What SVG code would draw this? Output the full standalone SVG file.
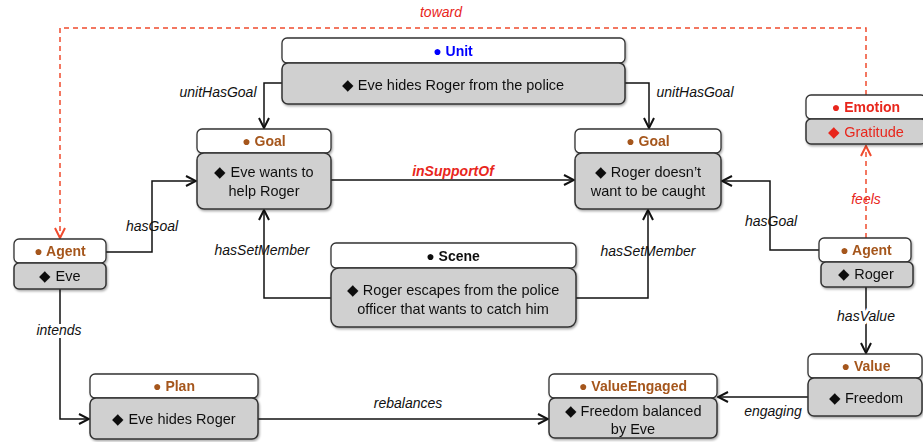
<svg xmlns="http://www.w3.org/2000/svg" width="923" height="442" viewBox="0 0 923 442">
<defs>
<filter id="sh" x="-10%" y="-10%" width="130%" height="140%">
<feDropShadow dx="1" dy="1.5" stdDeviation="1" flood-color="#000" flood-opacity="0.35"/>
</filter>
<marker id="ah" viewBox="0 0 12 12" refX="11" refY="6" markerWidth="12" markerHeight="12" markerUnits="userSpaceOnUse" orient="auto">
<path d="M1,1 L11,6 L1,11" fill="none" stroke="#111" stroke-width="2"/>
</marker>
<marker id="ahr" viewBox="0 0 12 12" refX="11" refY="6" markerWidth="12" markerHeight="12" markerUnits="userSpaceOnUse" orient="auto">
<path d="M1,1 L11,6 L1,11" fill="none" stroke="#F04B2E" stroke-width="2"/>
</marker>
</defs>
<style>
.hd{fill:#fff;stroke:#333;stroke-width:1.3}
.bd{fill:#d0d0d0;stroke:#333;stroke-width:1.5}
.ht{font-family:"Liberation Sans",Arial,sans-serif;font-size:14px;font-weight:bold;text-anchor:middle}
.br{fill:#A5561C}
.bt{font-family:"Liberation Sans",Arial,sans-serif;font-size:14.5px;fill:#111;text-anchor:middle}
.lb{font-family:"Liberation Sans",Arial,sans-serif;font-size:14px;font-style:italic;fill:#111;text-anchor:middle}
.ln{fill:none;stroke:#111;stroke-width:1.5}
.rd{fill:none;stroke:#F04B2E;stroke-width:1.5;stroke-dasharray:5,4}
</style>
<g id="connectors">
<path class="ln" d="M282,83 H264 V128" marker-end="url(#ah)"/>
<text class="lb" x="218" y="97">unitHasGoal</text>
<path class="ln" d="M625,83 H649 V128" marker-end="url(#ah)"/>
<text class="lb" x="695" y="97">unitHasGoal</text>
<path class="ln" d="M331,180 H574" marker-end="url(#ah)"/>
<text class="lb" x="453" y="176" style="fill:#E8261C;font-weight:bold">inSupportOf</text>
<path class="ln" d="M106,252 H152 V181 H196" marker-end="url(#ah)"/>
<text class="lb" x="152" y="231">hasGoal</text>
<path class="ln" d="M331,298 H264 V210" marker-end="url(#ah)"/>
<text class="lb" x="262" y="255">hasSetMember</text>
<path class="ln" d="M576,298 H648 V210" marker-end="url(#ah)"/>
<text class="lb" x="648" y="256">hasSetMember</text>
<path class="ln" d="M819,250 H770 V181 H722" marker-end="url(#ah)"/>
<text class="lb" x="771" y="226">hasGoal</text>
<path class="rd" d="M866,95 V28 H60 V238" marker-end="url(#ahr)"/>
<text class="lb" x="441" y="17" style="fill:#E8261C">toward</text>
<path class="rd" d="M866,238 V146" marker-end="url(#ahr)"/>
<text class="lb" x="866" y="204" style="fill:#E8261C">feels</text>
<path class="ln" d="M60,289 V419 H89" marker-end="url(#ah)"/>
<text class="lb" x="59" y="335" style="stroke:#fff;stroke-width:6;paint-order:stroke">intends</text>
<path class="ln" d="M258,419 H548" marker-end="url(#ah)"/>
<text class="lb" x="408" y="408">rebalances</text>
<path class="ln" d="M866,287 V353" marker-end="url(#ah)"/>
<text class="lb" x="866" y="321" style="stroke:#fff;stroke-width:6;paint-order:stroke">hasValue</text>
<path class="ln" d="M808,397 H718" marker-end="url(#ah)"/>
<text class="lb" x="773" y="416">engaging</text>
</g>
<g id="unit" filter="url(#sh)">
<rect class="hd" x="282" y="38" width="343" height="25" rx="5"/>
<rect class="bd" x="282" y="63" width="343" height="41" rx="6"/>
<text class="ht" x="453" y="56" fill="#0000FF">● Unit</text>
<text class="bt" x="453" y="90">◆  Eve hides Roger from the police</text>
</g>
<g id="goal-eve" filter="url(#sh)">
<rect class="hd" x="197" y="129" width="134" height="24" rx="5"/>
<rect class="bd" x="197" y="153" width="134" height="56" rx="7"/>
<text class="ht br" x="264" y="146">● Goal</text>
<text class="bt" x="264" y="177">◆ Eve wants to</text>
<text class="bt" x="264" y="196">help Roger</text>
</g>
<g id="goal-roger" filter="url(#sh)">
<rect class="hd" x="575" y="129" width="146" height="24" rx="5"/>
<rect class="bd" x="575" y="153" width="146" height="56" rx="7"/>
<text class="ht br" x="648" y="146">● Goal</text>
<text class="bt" x="648" y="177">◆ Roger doesn’t</text>
<text class="bt" x="648" y="196">want to be caught</text>
</g>
<g id="emotion" filter="url(#sh)">
<rect class="hd" x="806" y="95" width="120" height="24" rx="5"/>
<rect class="bd" x="806" y="119" width="120" height="25" rx="5"/>
<text class="ht" x="866" y="112" fill="#E8261C">● Emotion</text>
<text class="bt" x="866" y="137" style="fill:#E8261C">◆ Gratitude</text>
</g>
<g id="agent-eve" filter="url(#sh)">
<rect class="hd" x="14" y="239" width="92" height="24" rx="5"/>
<rect class="bd" x="14" y="263" width="92" height="26" rx="5"/>
<text class="ht br" x="60" y="256">● Agent</text>
<text class="bt" x="60" y="281">◆ Eve</text>
</g>
<g id="scene" filter="url(#sh)">
<rect class="hd" x="331" y="243" width="245" height="25" rx="5"/>
<rect class="bd" x="331" y="268" width="245" height="59" rx="8"/>
<text class="ht" x="453" y="261" fill="#111">● Scene</text>
<text class="bt" x="453" y="295">◆ Roger escapes from the police</text>
<text class="bt" x="453" y="314">officer that wants to catch him</text>
</g>
<g id="agent-roger" filter="url(#sh)">
<rect class="hd" x="819" y="238" width="92" height="24" rx="5"/>
<rect class="bd" x="821" y="262" width="92" height="25" rx="5"/>
<text class="ht br" x="866" y="255">● Agent</text>
<text class="bt" x="866" y="279">◆ Roger</text>
</g>
<g id="value" filter="url(#sh)">
<rect class="hd" x="808" y="354" width="114" height="24" rx="5"/>
<rect class="bd" x="808" y="378" width="114" height="38" rx="6"/>
<text class="ht br" x="866" y="371">● Value</text>
<text class="bt" x="866" y="403">◆ Freedom</text>
</g>
<g id="plan" filter="url(#sh)">
<rect class="hd" x="90" y="374" width="168" height="24" rx="5"/>
<rect class="bd" x="90" y="398" width="168" height="41" rx="6"/>
<text class="ht br" x="174" y="391">● Plan</text>
<text class="bt" x="174" y="424">◆ Eve hides Roger</text>
</g>
<g id="value-engaged" filter="url(#sh)">
<rect class="hd" x="549" y="374" width="168" height="24" rx="5"/>
<rect class="bd" x="549" y="398" width="168" height="40" rx="6"/>
<text class="ht br" x="633" y="391">● ValueEngaged</text>
<text class="bt" x="633" y="416">◆ Freedom balanced</text>
<text class="bt" x="633" y="434">by Eve</text>
</g>
</svg>
